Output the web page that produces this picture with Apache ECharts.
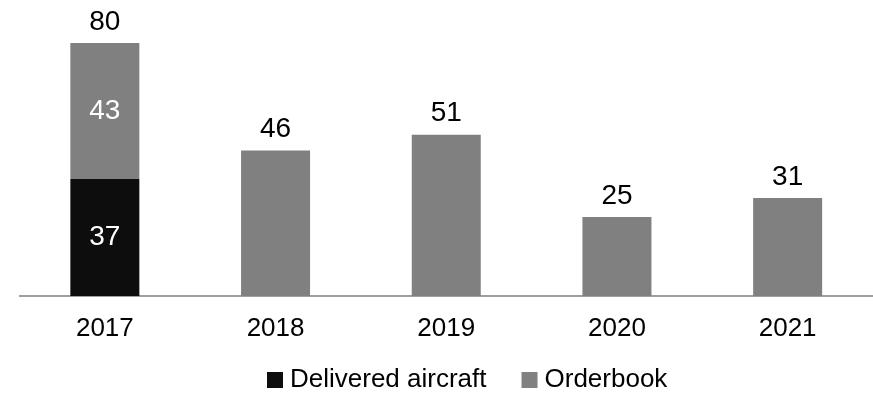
<!DOCTYPE html>
<html>
<head>
<meta charset="utf-8">
<script src="https://cdn.jsdelivr.net/npm/echarts@6/dist/echarts.min.js"></script>
<style>
  html, body { margin: 0; padding: 0; background: #ffffff; }
  #chart { width: 873px; height: 393px; }
</style>
</head>
<body>
<div id="chart"></div>
<script>
// Aircraft deliveries and orderbook by year
const years = ['2017', '2018', '2019', '2020', '2021'];
const delivered = [37, 0, 0, 0, 0];
const orderbook = [43, 46, 51, 25, 31];
const totals = years.map((_, i) => delivered[i] + orderbook[i]);

const FONT = 'Liberation Sans, Arial, sans-serif';
const chart = echarts.init(document.getElementById('chart'), null, { renderer: 'canvas' });

chart.setOption({
  animation: false,
  backgroundColor: '#ffffff',
  grid: { left: 19.5, width: 860, top: 11.4, bottom: 97, containLabel: false },
  legend: {
    data: ['Delivered aircraft', 'Orderbook'],
    top: 362,
    left: 262,
    icon: 'rect',
    itemWidth: 16,
    itemHeight: 16,
    itemGap: 35,
    textStyle: { fontFamily: FONT, fontSize: 26, color: '#000000', padding: [0, 0, 0, 2] }
  },
  xAxis: {
    type: 'category',
    data: years,
    axisLine: { lineStyle: { color: '#7f7f7f', width: 1.5 } },
    axisTick: { show: false },
    axisLabel: { fontFamily: FONT, fontSize: 26, color: '#000000', margin: 20 }
  },
  yAxis: {
    type: 'value',
    min: 0,
    max: 90,
    show: false,
    splitLine: { show: false }
  },
  series: [
    {
      name: 'Delivered aircraft',
      type: 'bar',
      stack: 'fleet',
      barWidth: 69,
      itemStyle: { color: '#0d0d0d' },
      data: delivered,
      label: {
        show: true,
        position: 'inside',
        fontFamily: FONT,
        fontSize: 28,
        color: '#ffffff',
        formatter: p => (p.value ? p.value : '')
      }
    },
    {
      name: 'Orderbook',
      type: 'bar',
      stack: 'fleet',
      barWidth: 69,
      itemStyle: { color: '#808080' },
      data: orderbook,
      label: {
        show: true,
        position: 'inside',
        fontFamily: FONT,
        fontSize: 28,
        color: '#ffffff',
        formatter: p => (delivered[p.dataIndex] ? p.value : '')
      }
    },
    {
      name: 'Total',
      type: 'bar',
      barWidth: 69,
      barGap: '-100%',
      z: 1,
      itemStyle: { color: 'rgba(0,0,0,0)' },
      emphasis: { disabled: true },
      data: totals,
      label: {
        show: true,
        position: 'top',
        distance: 7,
        fontFamily: FONT,
        fontSize: 28,
        color: '#000000'
      }
    }
  ]
});
</script>
</body>
</html>
